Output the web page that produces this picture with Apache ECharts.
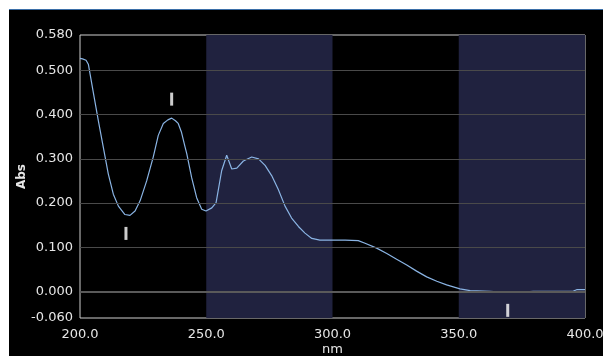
<!DOCTYPE html>
<html>
<head>
<meta charset="utf-8">
<script src="https://cdn.jsdelivr.net/npm/echarts@6/dist/echarts.min.js"></script>
<style>
  html, body { margin: 0; padding: 0; background: #ffffff; width: 603px; height: 356px; overflow: hidden; }
  #frame { position: absolute; left: 9px; top: 9px; right: 0; bottom: 0; background: #000000; border-top: 1px solid #3b6fa8; }
  #chart { position: absolute; left: 0; top: 0; width: 603px; height: 356px; }
</style>
</head>
<body>
<div id="frame"></div>
<div id="chart"></div>
<script>
// Absorbance spectrum (wavelength in nm, absorbance)
const wavelength = [
  200, 201, 202.4, 203.3, 205.3, 207.2, 209.2, 211.2, 213.2, 215.2,
  217.8, 219.8, 221.8, 223.8, 226.4, 229.0, 231.0, 233.0, 234.8, 236.3,
  237.8, 238.9, 240.2, 241.6, 242.3, 244.2, 246.2, 248.2, 249.9, 252.2,
  253.9, 256.1, 258.1, 260.1, 262.1, 264.7, 268.0, 270.7, 273.3, 275.9,
  278.5, 281.2, 283.8, 286.5, 289.1, 291.8, 295.0, 299.0, 305.0, 310.2,
  312.9, 317.5, 321.5, 325.4, 329.4, 333.3, 337.3, 341.3, 345.2, 350.5,
  354.5, 362.4, 368.0, 374.3, 379.5, 395.4, 396.7, 400
];
const absorbance = [
  0.527, 0.526, 0.523, 0.514, 0.449, 0.388, 0.327, 0.266, 0.220, 0.193,
  0.174, 0.172, 0.182, 0.205, 0.250, 0.304, 0.353, 0.380, 0.388, 0.392,
  0.386, 0.380, 0.360, 0.327, 0.311, 0.258, 0.212, 0.186, 0.182, 0.189,
  0.201, 0.273, 0.308, 0.277, 0.279, 0.295, 0.304, 0.300, 0.285, 0.262,
  0.231, 0.193, 0.166, 0.147, 0.132, 0.120, 0.116, 0.116, 0.116, 0.115,
  0.109, 0.098, 0.086, 0.073, 0.060, 0.046, 0.033, 0.023, 0.015, 0.006,
  0.002, 0.000, -0.002, -0.002, 0.000, 0.001, 0.004, 0.004
];

// Detected peaks and valleys
const peakNm = [236.3];
const peakAbs = [0.392];
const valleyNm = [218.2, 369.4];
const valleyAbs = [0.172, -0.002];

// Axis ticks, gridlines and highlighted wavelength bands
const yTicks = [-0.06, 0, 0.1, 0.2, 0.3, 0.4, 0.5, 0.58];
const gridValues = [0, 0.1, 0.2, 0.3, 0.4, 0.5];
const bands = [[250, 300], [350, 400]];

const curve = wavelength.map((w, i) => [w, absorbance[i]]);
const peaks = peakNm.map((w, i) => [w, peakAbs[i]]);
const valleys = valleyNm.map((w, i) => [w, valleyAbs[i]]);

const labelFont = 'DejaVu Sans';
const chart = echarts.init(document.getElementById('chart'), null, { renderer: 'canvas' });

chart.setOption({
  backgroundColor: 'transparent',
  animation: false,
  grid: {
    left: 80, top: 35, right: 18, bottom: 38,
    outerBoundsMode: 'none',
    show: true, borderColor: '#cfcfcf', borderWidth: 1, backgroundColor: 'transparent'
  },
  xAxis: {
    type: 'value', min: 200, max: 400, interval: 50,
    name: 'nm', nameLocation: 'middle', nameGap: 25, nameMoveOverlap: false,
    nameTextStyle: { color: '#e6e6e6', fontFamily: labelFont, fontSize: 13 },
    axisLine: { show: false }, axisTick: { show: false }, splitLine: { show: false },
    axisLabel: {
      color: '#e6e6e6', fontFamily: labelFont, fontSize: 13, margin: 10,
      formatter: v => v.toFixed(1)
    }
  },
  yAxis: {
    type: 'value', min: -0.06, max: 0.58,
    name: 'Abs', nameLocation: 'middle', nameGap: 52, nameRotate: 90, nameMoveOverlap: false,
    nameTextStyle: { color: '#e6e6e6', fontFamily: labelFont, fontSize: 12, fontWeight: 'bold' },
    axisLine: { show: false }, axisTick: { show: false }, splitLine: { show: false },
    axisLabel: {
      color: '#e6e6e6', fontFamily: labelFont, fontSize: 13, margin: 7,
      customValues: yTicks,
      formatter: v => v.toFixed(3)
    }
  },
  series: [
    {
      type: 'line', data: [], silent: true, z: 1,
      markArea: {
        silent: true,
        itemStyle: { color: '#20223f' },
        data: bands.map(b => [{ xAxis: b[0] }, { xAxis: b[1] }])
      }
    },
    {
      type: 'line', data: [], silent: true, z: 2,
      markLine: {
        silent: true, symbol: 'none', label: { show: false },
        data: gridValues.map(v => ({
          yAxis: v,
          lineStyle: { color: v === 0 ? '#5a5a5a' : '#4a4a4a', width: v === 0 ? 2 : 1, type: 'solid' }
        }))
      }
    },
    {
      type: 'line', data: curve, z: 3,
      showSymbol: false, smooth: false,
      lineStyle: { color: '#8ab4e4', width: 1.2 }
    },
    {
      type: 'scatter', data: peaks, z: 4,
      symbol: 'rect', symbolSize: [3, 13], symbolOffset: [0, -19],
      itemStyle: { color: '#ffffff' }
    },
    {
      type: 'scatter', data: valleys, z: 4,
      symbol: 'rect', symbolSize: [3, 13], symbolOffset: [0, 18],
      itemStyle: { color: '#ffffff' }
    }
  ]
});
</script>
</body>
</html>
